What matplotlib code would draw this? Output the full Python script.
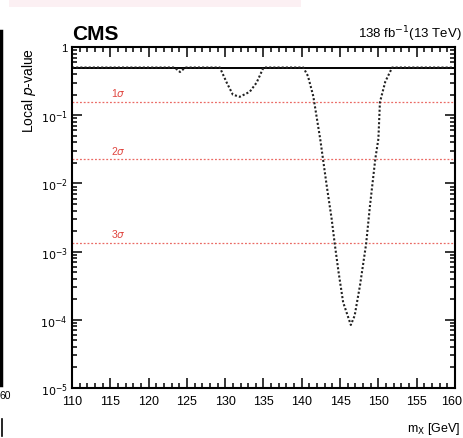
import matplotlib
matplotlib.use("Agg")
import matplotlib.pyplot as plt
from matplotlib.ticker import MultipleLocator, LogLocator, FuncFormatter, NullFormatter
from matplotlib.lines import Line2D
from matplotlib.patches import Rectangle
import numpy as np

plt.rcParams['font.family'] = ['Liberation Sans', 'DejaVu Sans']

# local p-value scan
mass = [110, 122, 123.4, 124.1, 124.8, 129.3, 130.2, 131.0, 131.9, 133.2, 134.1, 135.0,
        140.2, 140.8, 141.5, 142.4, 143.25, 143.9, 144.3, 144.8, 145.4, 146.4,
        146.9, 147.6, 148.4, 148.9, 149.6, 150.0, 150.2, 150.9, 151.8, 160]
pvalue = [0.5, 0.5, 0.5, 0.43, 0.5, 0.5, 0.30, 0.20, 0.186, 0.22, 0.30, 0.5,
          0.5, 0.376, 0.19, 0.045, 0.0093, 0.003, 0.0013, 0.0005, 0.00018, 8.4e-5,
          1.15e-4, 3.2e-4, 0.0013, 0.0047, 0.023, 0.045, 0.155, 0.31, 0.5, 0.5]

sigma_names = ['1$\\sigma$', '2$\\sigma$', '3$\\sigma$']
sigma_p = [0.1587, 0.02275, 0.00135]

fig = plt.figure(figsize=(4.63, 4.39), dpi=100)
ax = fig.add_axes([0.1555, 0.1139, 0.8272, 0.7768])

ax.axhline(0.5, color='black', lw=1.4)
for name, p in zip(sigma_names, sigma_p):
    ax.axhline(p, color='#ea6a64', lw=0.9, ls=(0, (1.5, 1.5)))
    ax.text(116, p * 1.12, name, color='#e0453f', fontsize=7.5, ha='center', va='bottom')

ax.plot(mass, pvalue, color='#222222', lw=1.5, ls=(0, (1, 1)))

ax.set_xlim(110, 160)
ax.set_yscale('log')
ax.set_ylim(1e-5, 1)

ax.xaxis.set_major_locator(MultipleLocator(5))
ax.xaxis.set_minor_locator(MultipleLocator(1))
ax.yaxis.set_major_locator(LogLocator(base=10, numticks=10))
ax.yaxis.set_minor_locator(LogLocator(base=10, subs=np.arange(2, 10), numticks=10))
ax.yaxis.set_minor_formatter(NullFormatter())


def yfmt(v, pos):
    e = int(round(np.log10(v)))
    if e == 0:
        return '1'
    return '$10^{%d}$' % e


def xfmt(v, pos):
    # the last label is drawn by hand so that it stays inside the picture
    if v >= 160:
        return ''
    return '%d' % v


ax.yaxis.set_major_formatter(FuncFormatter(yfmt))
ax.xaxis.set_major_formatter(FuncFormatter(xfmt))
ax.tick_params(which='both', direction='in', top=True, right=True, width=1.1)
ax.tick_params(which='major', length=7)
ax.tick_params(which='minor', length=3.5)
ax.tick_params(axis='x', pad=5, labelsize=9)
ax.tick_params(axis='y', pad=3, labelsize=8)
for s in ax.spines.values():
    s.set_linewidth(1.5)

ax.annotate('160', xy=(160, 0), xycoords=('data', 'axes fraction'), xytext=(5, -5),
            textcoords='offset points', ha='right', va='top', fontsize=9)

ax.set_ylabel('Local $p$-value', loc='top', fontsize=10)
ax.yaxis.set_label_coords(-0.089, 1.0)
ax.set_xlabel('m$_{\\mathrm{X}}$ [GeV]', loc='right', fontsize=9)
ax.xaxis.set_label_coords(1.013, -0.094)

ax.text(0.0, 1.012, 'CMS', transform=ax.transAxes, fontsize=15, fontweight='bold',
        ha='left', va='bottom')
fig.text(0.998, 0.9, '138 fb$^{-1}$(13 TeV)', fontsize=9.5, ha='right', va='bottom')

# sliver of the neighbouring panel on the left
fig.add_artist(Line2D([0.003, 0.003], [1 - 32 / 439, 1 - 386 / 439], color='black', lw=2.5))
fig.text(0.0, 1 - 396 / 439, '60', fontsize=7.5, ha='left', va='center')
fig.add_artist(Line2D([0.004, 0.004], [1 - 420 / 439, 1 - 437 / 439], color='black', lw=1.2))
fig.add_artist(Rectangle((0.02, 1 - 8 / 439), 0.63, 8 / 439, color='#fcf0f3', lw=0))

fig.savefig('out.png', dpi=100)
